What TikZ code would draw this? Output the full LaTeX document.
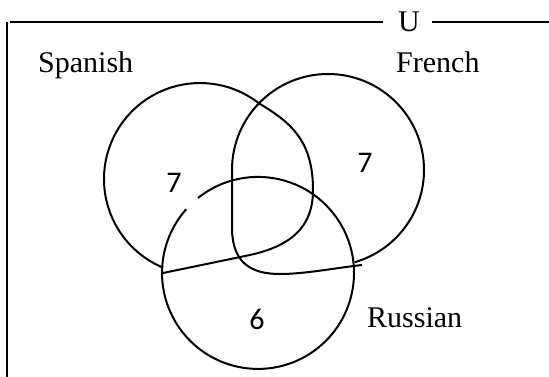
\documentclass[tikz,border=0pt]{standalone}
\usepackage{fontspec}
\setmainfont{Liberation Serif}
\newfontfamily\digitfont{Carlito}
\begin{document}
\begin{tikzpicture}[x=1pt,y=-1pt,
  curve/.style={line width=2pt, black},
  frameline/.style={line width=1.8pt, black},
  lbl/.style={inner sep=0pt, anchor=base west, font=\fontsize{30}{36}\selectfont},
  num/.style={inner sep=0pt, font=\digitfont\fontsize{30}{36}\selectfont}]
\useasboundingbox (0,0) rectangle (549,377);
% universe frame
\node[lbl] (u) at (398,31.5) {U};
\coordinate (tl) at (10,22);
\coordinate (tm) at (383,22);
\coordinate (tn) at (432,22);
\coordinate (tr) at (549,22);
\coordinate (vl) at (7,22);
\coordinate (vb) at (7,377);
\draw[frameline] (tl) -- (tm);
\draw[frameline] (tn) -- (tr);
\draw[line width=2.2pt] (vl) -- (vb);
% labels
\node[lbl] (spanish) at (38,73) {Spanish};
\node[lbl] (french) at (396,73) {French};
\node[lbl] (russian) at (367,327) {Russian};
% Spanish set
\draw[curve] (259.1,103.4) arc[start angle=-52, end angle=-247.4, radius=96];
\draw[curve] (259.1,103.4) .. controls (290,122) and (313,140) .. (313,190)
  .. controls (313,228) and (290,246) .. (250,255) -- (163,273);
% French set
\draw[curve] (232,170) arc[start angle=180, end angle=433.8, radius=96];
\draw[curve] (232,170) -- (232,230) .. controls (233,262) and (250,274) .. (280,274)
  .. controls (305,274) and (335,268) .. (362,265);
% Russian set
\draw[curve] (198,198) arc[start angle=231.3, end angle=581.6, radius=96];
% numbers
\node[num] (n1) at (174,183) {7};
\node[num] (n2) at (365,163) {7};
\node[num] (n3) at (257,319) {6};
\end{tikzpicture}
\end{document}
